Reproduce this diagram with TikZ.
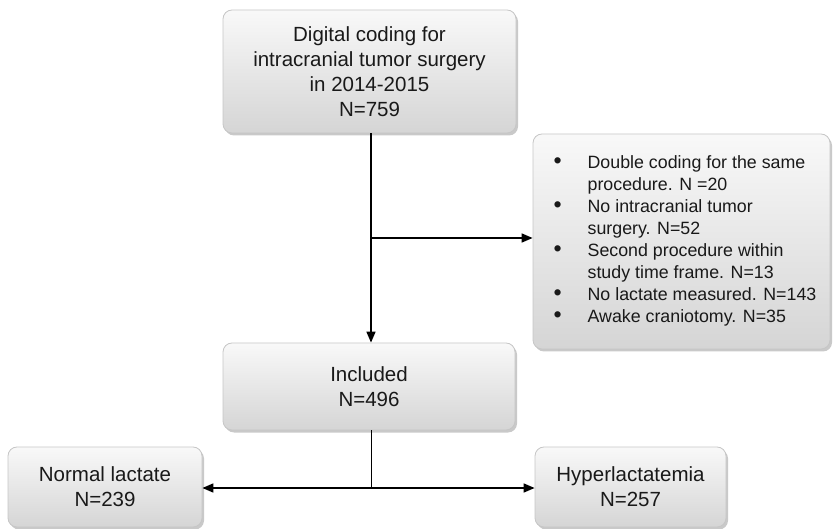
\documentclass[tikz,border=0pt]{standalone}
\usepackage{fontspec}
\setmainfont{Liberation Sans}
\usetikzlibrary{arrows.meta,shadows,positioning}
\begin{document}
\begin{tikzpicture}[x=1pt,y=-1pt,
  box/.style={draw=gray!45,line width=0.8pt,rounded corners=9pt,top color=gray!5,bottom color=gray!33,
    drop shadow={shadow xshift=2pt,shadow yshift=-2.5pt,fill=gray!60,opacity=0.7},
    align=center,inner sep=0pt,text=black!90},
  bigtext/.style={font=\fontsize{20.5}{25}\selectfont},
  conn/.style={line width=1.6pt,black},
  arr/.style={conn,-{Triangle[length=11pt,width=9pt]}}]
\useasboundingbox (0,0) rectangle (833,529);
\node[box,bigtext,minimum width=293pt,minimum height=123pt] (top) at (369.5,71.5)
  {Digital coding for\\intracranial tumor surgery\\in 2014-2015\\N=759};
\node[box,minimum width=297pt,minimum height=215pt,align=left,font=\fontsize{17.8}{22}\selectfont] (side) at (681.5,241.5)
  {\begin{tabular}{@{\hspace{7pt}}p{34pt}@{}l@{}}
  \scalebox{1.3}{\textbullet} & Double coding for the same\\
  & procedure. N =20\\
  \scalebox{1.3}{\textbullet} & No intracranial tumor\\
  & surgery. N=52\\
  \scalebox{1.3}{\textbullet} & Second procedure within\\
  & study time frame. N=13\\
  \scalebox{1.3}{\textbullet} & No lactate measured. N=143\\
  \scalebox{1.3}{\textbullet} & Awake craniotomy. N=35
  \end{tabular}};
\node[box,bigtext,minimum width=292pt,minimum height=87pt] (incl) at (369,386.5)
  {Included\\N=496};
\node[box,bigtext,minimum width=194pt,minimum height=80pt] (normal) at (105,487)
  {Normal lactate\\N=239};
\node[box,bigtext,minimum width=191pt,minimum height=80pt] (hyper) at (630.5,487)
  {Hyperlactatemia\\N=257};
\coordinate (br) at (371,238);
\coordinate (sp) at (371,488);
\draw[arr] (top.south -| br) -- (incl.north -| br);
\draw[arr] (br) -- (side.west |- br);
\draw[black,line width=1pt] (incl.south -| sp) -- (sp);
\draw[arr] (sp) -- (normal.east |- sp);
\draw[arr] (sp) -- (hyper.west |- sp);
\end{tikzpicture}
\end{document}
